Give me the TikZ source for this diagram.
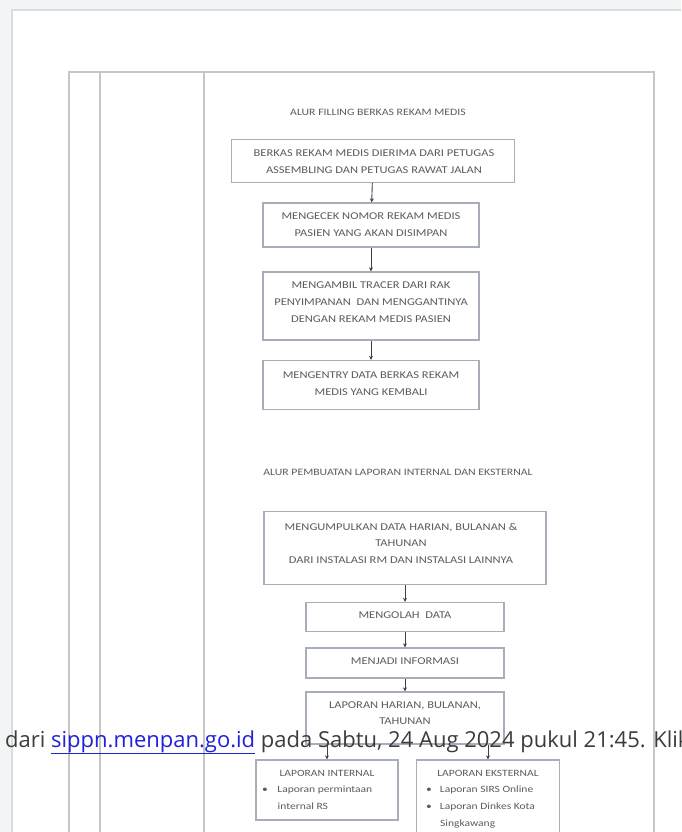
\documentclass[tikz,border=0pt]{standalone}
\usepackage{fontspec}
\setmainfont[FakeStretch=1.2]{Carlito}
\newfontfamily\webfont{Open Sans}
\usetikzlibrary{arrows.meta}
\definecolor{bgc}{HTML}{F3F4F5}
\definecolor{pageedge}{HTML}{DADCDE}
\definecolor{frameline}{HTML}{C6C6C6}
\definecolor{boxline}{HTML}{A7AEB9}
\definecolor{scantext}{HTML}{5C5C5C}
\definecolor{webtext}{HTML}{3C3C3C}
\definecolor{linkblue}{HTML}{1F22D6}
\tikzset{
  flowbox/.style={draw=boxline, line width=1.3pt, fill=white, inner sep=0pt},
  boxtext/.style={align=center, text=scantext, inner sep=0pt,
     font=\fontsize{10.4}{17}\selectfont},
  listtext/.style={align=left, text=scantext, inner sep=0pt, anchor=north west,
     font=\fontsize{9.6}{17}\selectfont},
  heading/.style={text=scantext, inner sep=0pt, font=\fontsize{9.8}{12}\selectfont},
  arr/.style={draw=black!75, line width=0.9pt, -{Stealth[length=4pt,width=4pt]}},
  frame/.style={draw=frameline, line width=1.5pt}
}
\begin{document}
\begin{tikzpicture}[x=1pt,y=-1pt]
\useasboundingbox (0,0) rectangle (681,832);
\clip (0,0) rectangle (681,832);
% web page background
\fill[bgc] (0,0) rectangle (681,832);
\fill[white] (12,10) rectangle (690,840);
\draw[pageedge, line width=1.2pt] (12,840) -- (12,10) -- (690,10);
% document table frame
\draw[frame] (69,840) -- (69,72) -- (654,72) -- (654,840);
\draw[frame] (100,72) -- (100,840);
\draw[frame] (204,72) -- (204,840);

% flow 1
\node[heading] (t1) at (378,112) {ALUR FILLING BERKAS REKAM MEDIS};
\node[flowbox, minimum width=283pt, minimum height=43pt] (b1) at (373,161) {};
\node[flowbox, minimum width=216pt, minimum height=44pt] (b2) at (371,225) {};
\node[flowbox, minimum width=216pt, minimum height=68pt] (b3) at (371,306) {};
\node[flowbox, minimum width=216pt, minimum height=49pt] (b4) at (371,385) {};
\node[boxtext] (x1) at (374,162) {BERKAS REKAM MEDIS DIERIMA DARI PETUGAS\\ASSEMBLING DAN PETUGAS RAWAT JALAN};
\node[boxtext] (x2) at (371,225) {MENGECEK NOMOR REKAM MEDIS\\PASIEN YANG AKAN DISIMPAN};
\node[boxtext] (x3) at (371,302) {MENGAMBIL TRACER DARI RAK\\PENYIMPANAN\ \ DAN MENGGANTINYA\\DENGAN REKAM MEDIS PASIEN};
\node[boxtext] (x4) at (371,384) {MENGENTRY DATA BERKAS REKAM\\MEDIS YANG KEMBALI};
\draw[arr] (b1) -- (b2);
\draw[arr] (b2) -- (b3);
\draw[arr] (b3) -- (b4);

% flow 2
\node[heading] (t2) at (398,472) {ALUR PEMBUATAN LAPORAN INTERNAL DAN EKSTERNAL};
\node[flowbox, minimum width=282pt, minimum height=73pt] (b5) at (405,548) {};
\node[flowbox, minimum width=198pt, minimum height=29pt] (b6) at (405,617) {};
\node[flowbox, minimum width=198pt, minimum height=30pt] (b7) at (405,663) {};
\node[flowbox, minimum width=198pt, minimum height=52pt] (b8) at (405,718) {};
\node[boxtext, font=\fontsize{10.4}{16.5}\selectfont] (x5) at (401,543) {MENGUMPULKAN DATA HARIAN, BULANAN \&\\TAHUNAN\\DARI INSTALASI RM DAN INSTALASI LAINNYA};
\node[boxtext] (x6) at (405,615) {MENGOLAH\ \ DATA};
\node[boxtext] (x7) at (405,661) {MENJADI INFORMASI};
\node[boxtext, font=\fontsize{10.4}{15.5}\selectfont] (x8) at (405,713) {LAPORAN HARIAN, BULANAN,\\TAHUNAN};
\draw[arr] (b5) -- (b6);
\draw[arr] (b6) -- (b7);
\draw[arr] (b7) -- (b8);

\node[flowbox, minimum width=142pt, minimum height=60pt] (b9) at (327,790) {};
\node[flowbox, minimum width=143pt, minimum height=86pt] (b10) at (488,803) {};
\node[boxtext, font=\fontsize{9.6}{12}\selectfont] (x9t) at (327,773) {LAPORAN INTERNAL};
\node[listtext] (x9) at (262,786) {\textbullet\hspace{9.5pt}Laporan permintaan\\\hspace{15.5pt}internal RS};
\node[boxtext, font=\fontsize{9.6}{12}\selectfont] (x10t) at (488,773) {LAPORAN EKSTERNAL};
\node[listtext] (x10) at (426,786) {\textbullet\hspace{8pt}Laporan SIRS Online\\\textbullet\hspace{8pt}Laporan Dinkes Kota\\\hspace{14pt}Singkawang};
\draw[arr] (b9.north |- b8.south) -- (b9.north);
\draw[arr] (b10.north |- b8.south) -- (b10.north);

% web overlay caption
\node[anchor=base west, inner sep=0pt, text=webtext, font=\webfont\fontsize{22}{24}\selectfont] (cap) at (5,747)
  {dari {\color{linkblue}\underline{sippn.menpan.go.id}} pada Sabtu, 24 Aug 2024 pukul 21:45. Klik};
\end{tikzpicture}
\end{document}
